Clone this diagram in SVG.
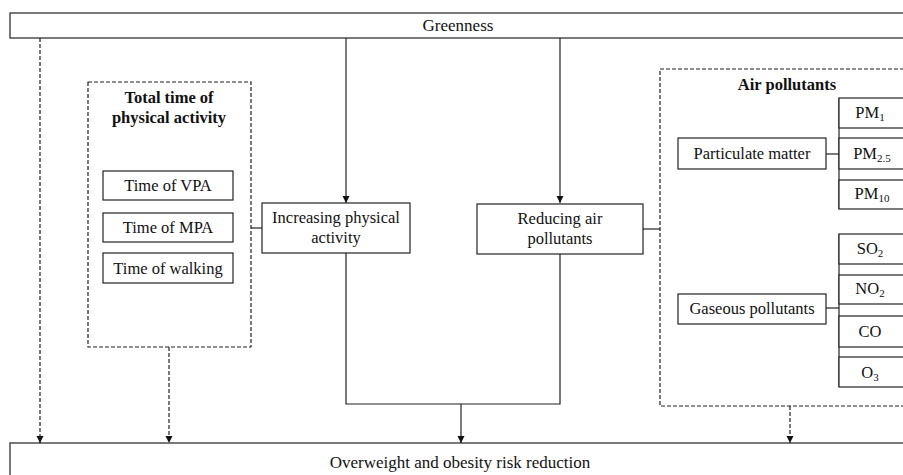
<svg xmlns="http://www.w3.org/2000/svg" width="903" height="475" viewBox="0 0 903 475">
<style>
.box{fill:#fff;stroke:#222;stroke-width:1.2}
.dbox{fill:none;stroke:#222;stroke-width:1.2;stroke-dasharray:4,2}
.ln{fill:none;stroke:#222;stroke-width:1.2}
.dl{fill:none;stroke:#222;stroke-width:1.2;stroke-dasharray:4,2}
text{font-family:"Liberation Serif","Times New Roman",serif;fill:#111;text-anchor:middle}
.t{font-size:16.5px}
.big{font-size:17px}
.b{font-size:16.5px;font-weight:bold}
.sub{font-size:11px}
</style>
<defs>
<marker id="ah" markerWidth="8" markerHeight="8" refX="7" refY="4" orient="auto" markerUnits="userSpaceOnUse">
<path d="M0,0.5 L7,4 L0,7.5 Z" fill="#111"/>
</marker>
</defs>
<rect width="903" height="475" fill="#fff"/>
<g id="connectors">
<line class="dl" x1="40" y1="38" x2="40" y2="443" marker-end="url(#ah)"/>
<line class="ln" x1="346" y1="38" x2="346" y2="203" marker-end="url(#ah)"/>
<line class="ln" x1="560" y1="38" x2="560" y2="203" marker-end="url(#ah)"/>
<polyline class="ln" points="346,253 346,404 560,404 560,254"/>
<line class="ln" x1="461" y1="404" x2="461" y2="443" marker-end="url(#ah)"/>
<line class="dl" x1="169" y1="347" x2="169" y2="443" marker-end="url(#ah)"/>
<line class="dl" x1="790" y1="406" x2="790" y2="443" marker-end="url(#ah)"/>
<line class="ln" x1="251" y1="228" x2="262" y2="228"/>
<line class="ln" x1="643" y1="229" x2="660" y2="229"/>
<line class="ln" x1="826" y1="154" x2="839" y2="154"/>
<line class="ln" x1="826" y1="308" x2="839" y2="308"/>
<line class="ln" x1="839" y1="98" x2="839" y2="209"/>
<line class="ln" x1="839" y1="234" x2="839" y2="387"/>
</g>
<g id="greenness">
<rect class="box" x="10" y="13" width="910" height="25"/>
<text class="big" x="458" y="31">Greenness</text>
</g>
<g id="outcome">
<rect class="box" x="10" y="443" width="910" height="40"/>
<text class="big" x="460" y="468">Overweight and obesity risk reduction</text>
</g>
<g id="pa-group">
<rect class="dbox" x="88" y="82" width="163" height="265"/>
<text class="b" x="169" y="103">Total time of</text>
<text class="b" x="169" y="123">physical activity</text>
</g>
<g id="vpa">
<rect class="box" x="103" y="171" width="130" height="29"/>
<text class="t" x="168" y="191">Time of VPA</text>
</g>
<g id="mpa">
<rect class="box" x="103" y="213" width="130" height="29"/>
<text class="t" x="168" y="233">Time of MPA</text>
</g>
<g id="walking">
<rect class="box" x="103" y="253" width="130" height="30"/>
<text class="t" x="168" y="274">Time of walking</text>
</g>
<g id="increasing-pa">
<rect class="box" x="262" y="203" width="148" height="50"/>
<text class="t" x="336" y="223">Increasing physical</text>
<text class="t" x="336" y="243">activity</text>
</g>
<g id="reducing-ap">
<rect class="box" x="477" y="204" width="166" height="50"/>
<text class="t" x="560" y="224">Reducing air</text>
<text class="t" x="560" y="244">pollutants</text>
</g>
<g id="air-group">
<rect class="dbox" x="660" y="69" width="260" height="337"/>
<text class="b" x="787" y="90">Air pollutants</text>
</g>
<g id="pm">
<rect class="box" x="678" y="138" width="148" height="31"/>
<text class="t" x="752" y="159">Particulate matter</text>
</g>
<g id="pm1">
<rect class="box" x="839" y="98" width="80" height="30"/>
<text class="t" x="870" y="118">PM<tspan class="sub" dy="3">1</tspan></text>
</g>
<g id="pm25">
<rect class="box" x="839" y="138" width="80" height="31"/>
<text class="t" x="872" y="159">PM<tspan class="sub" dy="3">2.5</tspan></text>
</g>
<g id="pm10">
<rect class="box" x="839" y="180" width="80" height="29"/>
<text class="t" x="872" y="199">PM<tspan class="sub" dy="3">10</tspan></text>
</g>
<g id="gas">
<rect class="box" x="678" y="294" width="148" height="30"/>
<text class="t" x="752" y="314">Gaseous pollutants</text>
</g>
<g id="so2">
<rect class="box" x="839" y="234" width="80" height="30"/>
<text class="t" x="870" y="254">SO<tspan class="sub" dy="3">2</tspan></text>
</g>
<g id="no2">
<rect class="box" x="839" y="275" width="80" height="29"/>
<text class="t" x="870" y="294">NO<tspan class="sub" dy="3">2</tspan></text>
</g>
<g id="co">
<rect class="box" x="839" y="316" width="80" height="31"/>
<text class="t" x="870" y="337">CO</text>
</g>
<g id="o3">
<rect class="box" x="839" y="357" width="80" height="30"/>
<text class="t" x="870" y="378">O<tspan class="sub" dy="3">3</tspan></text>
</g>
</svg>
